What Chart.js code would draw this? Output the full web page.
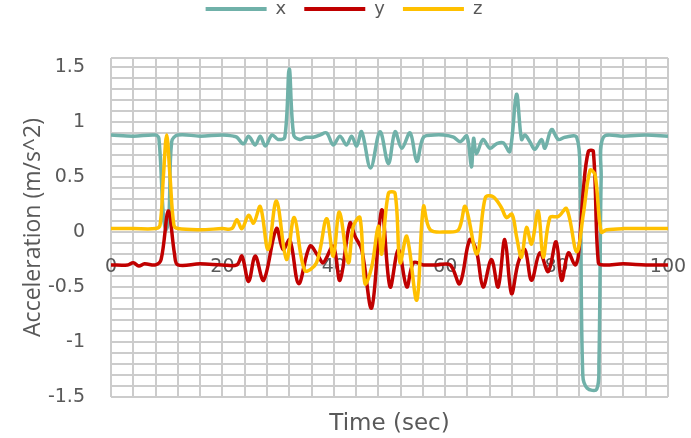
<!DOCTYPE html>
<html>
<head>
<meta charset="utf-8">
<script src="https://cdn.jsdelivr.net/npm/chart.js@4.4.1/dist/chart.umd.min.js"></script>
<style>
    body { margin: 0; background: #ffffff; }
    #grafico { display: block; }
</style>
</head>
<body>
<canvas id="grafico" width="691" height="438"></canvas>
<script>
// valores (tempo em s, aceleracao em m/s^2)
const tempoX = [0, 4, 8, 8.6, 9.4, 9.9, 10.4, 10.9, 12, 16, 20, 22, 22.6, 23.8, 24.7, 25.9, 26.8, 27.7, 28.9, 30, 31.2, 32, 32.8, 33.9, 35, 36.3, 37.5, 38.7, 39.9, 41.1, 42.3, 43.2, 44.1, 45, 46.6, 48.3, 49.8, 51, 52.2, 53.7, 54.9, 56.1, 58, 59.7, 61.5, 62.7, 63.9, 64.7, 65.1, 65.6, 66.8, 68, 69.2, 70.4, 71.6, 72.8, 73.7, 74.3, 75.2, 76.1, 77.3, 77.9, 79.1, 80.3, 81.5, 83.6, 84.2, 84.7, 85.5, 87.2, 87.6, 88, 88.4, 92, 96, 100];
const valoresX = [0.88, 0.87, 0.88, 0.85, 0.15, 0.02, 0.15, 0.82, 0.88, 0.87, 0.88, 0.87, 0.86, 0.8, 0.87, 0.79, 0.87, 0.78, 0.88, 0.84, 0.86, 1.48, 0.88, 0.84, 0.86, 0.86, 0.88, 0.9, 0.79, 0.87, 0.79, 0.87, 0.78, 0.91, 0.58, 0.91, 0.62, 0.91, 0.76, 0.9, 0.64, 0.86, 0.88, 0.88, 0.86, 0.82, 0.87, 0.59, 0.85, 0.71, 0.84, 0.76, 0.8, 0.81, 0.73, 1.25, 0.84, 0.88, 0.82, 0.75, 0.84, 0.76, 0.93, 0.84, 0.86, 0.86, 0.5, -1.3, -1.42, -1.43, -1.2, 0.5, 0.86, 0.87, 0.88, 0.87];

const tempoY = [0, 3, 4, 5, 6, 8, 9, 10.3, 11.4, 12, 16, 20, 22.6, 23.5, 24.7, 25.9, 27.4, 29.7, 30.9, 32.1, 33.7, 35.7, 37.2, 38.1, 39.9, 41.1, 42.9, 43.8, 45, 46.8, 48.6, 50.1, 51.6, 53.1, 54.3, 56.1, 58.5, 60.9, 62.6, 64.4, 65.6, 66.8, 68.3, 69.5, 70.7, 71.9, 73.1, 74.3, 75.5, 77, 78.5, 79.9, 80.9, 82.1, 83.3, 83.9, 84.8, 85.7, 86.6, 87.5, 88.5, 92, 96, 100];
const valoresY = [-0.3, -0.3, -0.28, -0.31, -0.29, -0.3, -0.25, 0.19, -0.2, -0.3, -0.29, -0.3, -0.3, -0.22, -0.45, -0.22, -0.44, 0.03, -0.16, -0.07, -0.47, -0.13, -0.22, -0.28, -0.13, -0.44, 0.08, -0.04, -0.16, -0.69, 0.2, -0.5, -0.16, -0.5, -0.28, -0.3, -0.3, -0.3, -0.47, -0.07, -0.17, -0.5, -0.25, -0.5, -0.07, -0.56, -0.28, -0.16, -0.44, -0.19, -0.36, -0.09, -0.44, -0.19, -0.3, -0.22, 0.38, 0.73, 0.73, -0.28, -0.3, -0.29, -0.3, -0.3];

const tempoZ = [0, 4, 8, 8.8, 9.4, 10, 10.6, 11.3, 12, 16, 20, 21.7, 22.6, 23.5, 24.7, 25.6, 26.8, 28.2, 29.7, 31.5, 32.9, 34.8, 36.9, 38.7, 39.9, 41, 42.6, 43.5, 44.7, 45.6, 46.8, 48, 48.6, 49.8, 51, 51.9, 53.1, 54.9, 56.1, 57.3, 60.3, 62.4, 63.6, 65.7, 67.2, 68.6, 70.1, 71, 72, 72.8, 73.7, 74.6, 75.5, 76.7, 77.6, 78.8, 80.3, 81.8, 83.6, 84.8, 86, 86.9, 88, 89, 92, 96, 100];
const valoresZ = [0.03, 0.03, 0.03, 0.06, 0.5, 0.88, 0.5, 0.06, 0.03, 0.02, 0.03, 0.03, 0.11, 0.03, 0.15, 0.08, 0.23, -0.16, 0.28, -0.25, 0.13, -0.35, -0.28, 0.12, -0.22, 0.18, -0.28, 0.05, 0.13, -0.47, -0.32, 0.05, -0.2, 0.35, 0.35, -0.28, -0.04, -0.62, 0.23, 0.02, 0.0, 0.02, 0.23, -0.2, 0.31, 0.32, 0.22, 0.13, 0.16, -0.04, -0.23, 0.04, -0.11, 0.19, -0.23, 0.13, 0.14, 0.21, -0.18, 0.16, 0.56, 0.52, 0.0, 0.02, 0.03, 0.03, 0.03];

const nomes = ['x', 'y', 'z'];
const cores = ['#70B1A9', '#C00000', '#FFC000'];

// rotulos dos eixos
const rotulosX = [0, 20, 40, 60, 80, 100];
const rotulosY = [-1.5, -1, -0.5, 0, 0.5, 1, 1.5];

function pontos(tempos, valores) {
    return tempos.map((t, i) => ({ x: t, y: valores[i] }));
}

const corTexto = '#595959';
const corGrade = '#CCCCCC';
const fonte = 'DejaVu Sans';

const series = [pontos(tempoX, valoresX), pontos(tempoY, valoresY), pontos(tempoZ, valoresZ)];

const data_grafico = {
    datasets: series.map((s, i) => ({
        label: nomes[i],
        data: s,
        borderColor: cores[i],
        backgroundColor: cores[i],
        borderWidth: 3.5,
        pointRadius: 0,
        tension: 0.35,
        order: 3 - i,
        xAxisID: 'x',
        yAxisID: 'y'
    }))
};

// ajusta altura da legenda para a area do grafico comecar no lugar certo
const ajusteLegenda = {
    id: 'ajusteLegenda',
    afterInit(chart) {
        const legenda = chart.legend;
        const fitOriginal = legenda.fit;
        legenda.fit = function () {
            fitOriginal.call(this);
            this.height = 76;
        };
    }
};

const config_grafico = {
    type: 'line',
    data: data_grafico,
    options: {
        responsive: false,
        animation: false,
        layout: {
            padding: { top: -18, right: 23, bottom: 0, left: 20 }
        },
        scales: {
            x: {
                type: 'linear',
                min: 0,
                max: 100,
                position: { y: -0.2 },
                grid: { color: corGrade, lineWidth: 2, drawTicks: false },
                border: { display: false },
                ticks: {
                    stepSize: 4,
                    autoSkip: false,
                    maxRotation: 0,
                    padding: 2,
                    color: corTexto,
                    font: { size: 19, family: fonte },
                    callback: function (v) {
                        return rotulosX.includes(v) ? String(v) : '';
                    }
                }
            },
            x2: {
                type: 'linear',
                position: 'bottom',
                grid: { display: false, drawTicks: false },
                border: { display: false },
                ticks: { display: false },
                title: {
                    display: true,
                    text: 'Time (sec)',
                    color: corTexto,
                    padding: 0,
                    font: { size: 23, family: fonte }
                },
                afterFit: function (scale) {
                    scale.height = 41;
                }
            },
            y: {
                min: -1.5,
                max: 1.58,
                position: 'left',
                grid: { color: corGrade, lineWidth: 2, drawTicks: false },
                border: { display: false },
                afterBuildTicks: function (scale) {
                    const marcas = [];
                    for (let k = -15; k <= 15; k++) marcas.push({ value: k / 10 });
                    marcas.push({ value: 1.58 });
                    scale.ticks = marcas;
                },
                ticks: {
                    autoSkip: false,
                    padding: 26,
                    color: corTexto,
                    font: { size: 19, family: fonte },
                    callback: function (v) {
                        const r = Math.round(v * 10) / 10;
                        return rotulosY.includes(r) && Math.abs(v - r) < 1e-6 ? String(r) : '';
                    }
                },
                title: {
                    display: true,
                    text: 'Acceleration (m/s^2)',
                    color: corTexto,
                    padding: { top: 0, bottom: 0 },
                    font: { size: 23, family: 'Open Sans' }
                },
                afterFit: function (scale) {
                    scale.width = 91;
                }
            }
        },
        plugins: {
            legend: {
                position: 'top',
                labels: {
                    boxWidth: 61,
                    boxHeight: 4,
                    padding: 18,
                    color: corTexto,
                    font: { size: 18, family: fonte },
                    sort: (a, b) => a.datasetIndex - b.datasetIndex,
                    generateLabels: function (chart) {
                        const itens = Chart.defaults.plugins.legend.labels.generateLabels(chart);
                        itens.forEach(item => {
                            item.fillStyle = item.strokeStyle;
                            item.lineWidth = 0;
                        });
                        return itens;
                    }
                }
            },
            tooltip: { enabled: false }
        }
    },
    plugins: [ajusteLegenda]
};

const grafico = new Chart(document.getElementById('grafico'), config_grafico);
</script>
</body>
</html>
